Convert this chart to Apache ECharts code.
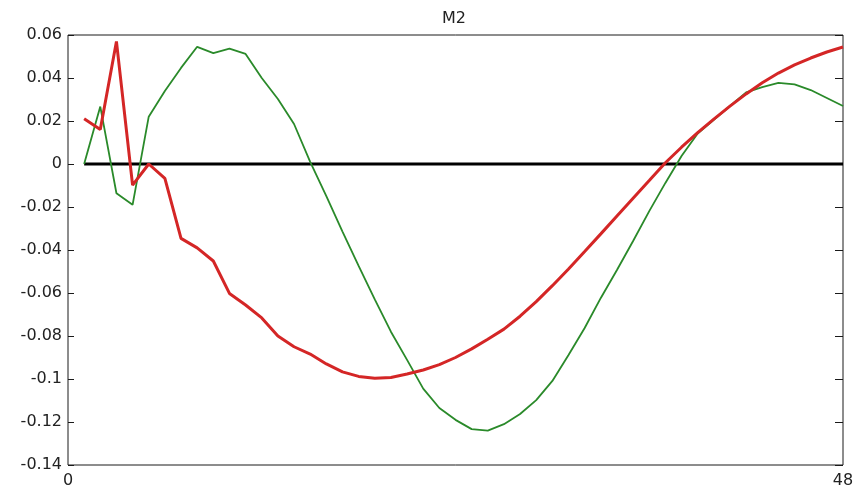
<!DOCTYPE html>
<html>
<head>
<meta charset="utf-8">
<title>M2</title>
<script src="https://cdn.jsdelivr.net/npm/echarts@6/dist/echarts.min.js"></script>
<style>
  html, body { margin: 0; padding: 0; background: #fff; }
  #chart { width: 862px; height: 491px; }
</style>
</head>
<body>
<div id="chart"></div>
<script>
// Lag index (1..48) and the two correlation curves
const lags = [1, 2, 3, 4, 5, 6, 7, 8, 9, 10, 11, 12, 13, 14, 15, 16, 17, 18, 19, 20, 21, 22, 23, 24,
              25, 26, 27, 28, 29, 30, 31, 32, 33, 34, 35, 36, 37, 38, 39, 40, 41, 42, 43, 44, 45, 46, 47, 48];

const redSeries = [0.021, 0.016, 0.057, -0.0098, 0.0, -0.0067, -0.0346, -0.039, -0.0451, -0.0602,
                   -0.0656, -0.0716, -0.080, -0.085, -0.0884, -0.093, -0.0967, -0.0988, -0.0997, -0.0993,
                   -0.0977, -0.0958, -0.0933, -0.090, -0.086, -0.0815, -0.0768, -0.0708, -0.064, -0.0566,
                   -0.0488, -0.0407, -0.0325, -0.0242, -0.0159, -0.0077, 0.0006, 0.0078, 0.0146, 0.0209,
                   0.0269, 0.0326, 0.0378, 0.0423, 0.0461, 0.0493, 0.0521, 0.0544];

const greenSeries = [0, 0.0267, -0.0136, -0.019, 0.022, 0.034, 0.0447, 0.0545, 0.0516, 0.0537,
                     0.0512, 0.040, 0.0302, 0.0186, 0.001, -0.0149, -0.0314, -0.0474, -0.063, -0.078,
                     -0.0911, -0.1045, -0.1135, -0.119, -0.1233, -0.124, -0.121, -0.1163, -0.1098, -0.1009,
                     -0.0888, -0.0763, -0.0623, -0.0493, -0.0358, -0.0219, -0.0088, 0.0037, 0.0142, 0.0205,
                     0.027, 0.0333, 0.0358, 0.0377, 0.037, 0.0344, 0.0307, 0.027];

// Horizontal reference line at zero, from the first lag to the last
const zeroLine = [[1, 0], [48, 0]];

// Axis ranges and tick labels
const xRange = [0, 48];
const yRange = [-0.14, 0.06];
const yStep = 0.02;
const yTickLabels = ['-0.14', '-0.12', '-0.1', '-0.08', '-0.06', '-0.04', '-0.02', '0', '0.02', '0.04', '0.06'];

const FONT = 'DejaVu Sans';
const TEXT = '#222';

const pairs = (ys) => lags.map((x, i) => [x, ys[i]]);

const yLabel = (v) => {
  const idx = Math.round((v - yRange[0]) / yStep);
  return yTickLabels[idx] !== undefined ? yTickLabels[idx] : '';
};

const chart = echarts.init(document.getElementById('chart'), null, { renderer: 'canvas' });

chart.setOption({
  animation: false,
  backgroundColor: '#fff',
  title: {
    text: 'M2',
    left: 437,
    top: 6,
    textStyle: { fontFamily: FONT, fontSize: 16, fontWeight: 'normal', color: TEXT }
  },
  grid: {
    left: 68, right: 19, top: 35, bottom: 26,
    show: true, borderColor: '#1a1a1a', borderWidth: 1, backgroundColor: 'transparent'
  },
  xAxis: {
    type: 'value',
    min: xRange[0], max: xRange[1], interval: 48,
    axisLine: { show: false },
    axisTick: { show: false },
    splitLine: { show: false },
    axisLabel: { fontFamily: FONT, fontSize: 16, color: TEXT, margin: 8 }
  },
  yAxis: [
    {
      type: 'value', position: 'left',
      min: yRange[0], max: yRange[1], interval: yStep,
      axisLine: { show: false },
      axisTick: { show: true, inside: true, length: 6, lineStyle: { color: '#1a1a1a' } },
      splitLine: { show: false },
      axisLabel: { fontFamily: FONT, fontSize: 16, color: TEXT, margin: 6, formatter: yLabel }
    },
    {
      type: 'value', position: 'right',
      min: yRange[0], max: yRange[1], interval: yStep,
      axisLine: { show: false },
      axisTick: { show: true, inside: true, length: 8, lineStyle: { color: '#1a1a1a' } },
      splitLine: { show: false },
      axisLabel: { show: false }
    }
  ],
  series: [
    {
      name: 'zero', type: 'line', data: zeroLine, showSymbol: false, silent: true,
      lineStyle: { color: '#000', width: 3 }
    },
    {
      name: 'green', type: 'line', data: pairs(greenSeries), showSymbol: false,
      lineStyle: { color: '#2a8a2a', width: 1.8 }
    },
    {
      name: 'red', type: 'line', data: pairs(redSeries), showSymbol: false,
      lineStyle: { color: '#d42626', width: 3 }
    }
  ]
});
</script>
</body>
</html>
